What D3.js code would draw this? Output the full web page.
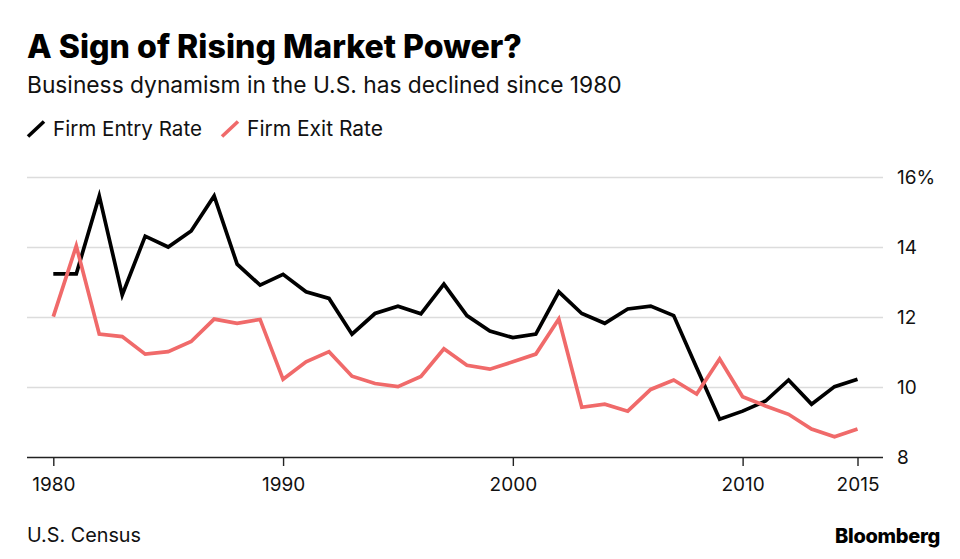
<!DOCTYPE html>
<html>
<head>
<meta charset="utf-8">
<script src="https://cdn.jsdelivr.net/npm/d3@7"></script>
<style>
  html, body { margin: 0; padding: 0; background: #fff; }
  svg { display: block; font-family: Inter, "Liberation Sans", Arial, sans-serif; }
</style>
</head>
<body>
<svg id="chart" width="960" height="559"></svg>
<script>
const years = d3.range(1980, 2016);
const entryRate = [13.23, 13.23, 15.46, 12.63, 14.31, 14.0, 14.46, 15.46, 13.51, 12.91,
                   13.22, 12.72, 12.53, 11.51, 12.1, 12.31, 12.09, 12.94, 12.04, 11.6,
                   11.41, 11.51, 12.72, 12.1, 11.82, 12.23, 12.31, 12.04, 10.55, 9.08,
                   9.31, 9.6, 10.2, 9.51, 10.01, 10.22];
const exitRate = [12.01, 14.03, 11.51, 11.44, 10.94, 11.01, 11.3, 11.94, 11.82, 11.93,
                  10.22, 10.72, 11.01, 10.31, 10.1, 10.01, 10.3, 11.09, 10.62, 10.51,
                  10.72, 10.94, 11.94, 9.42, 9.51, 9.31, 9.93, 10.2, 9.8, 10.8,
                  9.72, 9.46, 9.22, 8.8, 8.58, 8.8];
const yTicks = [8, 10, 12, 14, 16];
const xTicks = [1980, 1990, 2000, 2010, 2015];
const seriesNames = ["Firm Entry Rate", "Firm Exit Rate"];
const seriesColors = ["#000000", "#f06a6a"];

const svg = d3.select("#chart");

// fit text to a target width by scaling its font size
function fit(sel, targetW) {
  const node = sel.node();
  const fs = parseFloat(sel.attr("font-size"));
  const w = node.getComputedTextLength();
  sel.attr("font-size", (fs * targetW / w).toFixed(2));
  return sel;
}

// Titles
fit(svg.append("text").attr("x", 27).attr("y", 57.5)
  .attr("font-size", 29).attr("font-weight", 800).attr("fill", "#000")
  .text("A Sign of Rising Market Power?"), 495);
fit(svg.append("text").attr("x", 27).attr("y", 92.5)
  .attr("font-size", 21).attr("fill", "#111")
  .text("Business dynamism in the U.S. has declined since 1980"), 595);

// Legend
const legendX = [28, 222];
const legendTextW = [149, 136];
seriesNames.forEach((name, i) => {
  svg.append("line")
    .attr("x1", legendX[i]).attr("y1", 136.5)
    .attr("x2", legendX[i] + 16).attr("y2", 121.5)
    .attr("stroke", seriesColors[i]).attr("stroke-width", 3.6);
  fit(svg.append("text").attr("x", legendX[i] + 25).attr("y", 136)
    .attr("font-size", 18).attr("fill", "#111").text(name), legendTextW[i]);
});

// Scales
const x = d3.scaleLinear().domain([1980, 2015]).range([53.3, 857.5]);
const y = d3.scaleLinear().domain([8, 16]).range([457, 177]);
const gridLeft = 27, gridRight = 883;

// Y axis with gridlines
const yAxis = svg.append("g")
  .attr("transform", `translate(${gridLeft},0)`)
  .call(d3.axisRight(y).tickValues(yTicks).tickSize(gridRight - gridLeft).tickPadding(14)
    .tickFormat(d => d === 16 ? d + "%" : d));
yAxis.select(".domain").remove();
yAxis.selectAll(".tick line")
  .attr("stroke", d => d === 8 ? "#222" : "#dcdcdc")
  .attr("stroke-width", d => d === 8 ? 1.5 : 1.4);
yAxis.selectAll(".tick text")
  .attr("font-size", 19).attr("fill", "#111").attr("font-family", "Inter, 'Liberation Sans', Arial, sans-serif");

// X axis
const xAxis = svg.append("g")
  .attr("transform", `translate(0,${y(8)})`)
  .call(d3.axisBottom(x).tickValues(xTicks).tickSize(9).tickPadding(12).tickFormat(d3.format("d")));
xAxis.select(".domain").remove();
xAxis.selectAll(".tick line").attr("stroke", "#222").attr("stroke-width", 1.4);
xAxis.selectAll(".tick text")
  .attr("font-size", 19).attr("fill", "#111").attr("font-family", "Inter, 'Liberation Sans', Arial, sans-serif");

// Lines
const line = d3.line().x((d, i) => x(years[i])).y(d => y(d));
[entryRate, exitRate].forEach((vals, i) => {
  svg.append("path")
    .datum(vals)
    .attr("fill", "none")
    .attr("stroke", seriesColors[i])
    .attr("stroke-width", 3.7)
    .attr("stroke-linejoin", "miter")
    .attr("d", line);
});

// Footer
fit(svg.append("text").attr("x", 27).attr("y", 542)
  .attr("font-size", 19).attr("fill", "#111").text("U.S. Census"), 114);
const bb = svg.append("text").attr("x", 940).attr("y", 543).attr("text-anchor", "end")
  .attr("font-size", 20).attr("font-weight", 800).attr("fill", "#000").attr("letter-spacing", -0.3)
  .text("Bloomberg");
fit(bb, 105);
</script>
</body>
</html>
